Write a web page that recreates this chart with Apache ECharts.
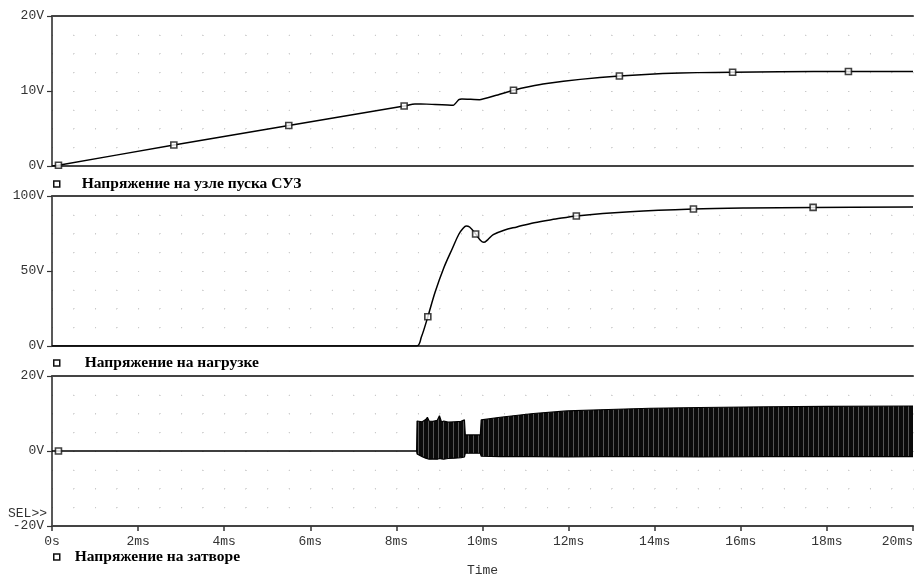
<!DOCTYPE html>
<html><head><meta charset="utf-8">
<script src="https://cdn.jsdelivr.net/npm/echarts@6/dist/echarts.min.js"></script>
<style>html,body{margin:0;padding:0;background:#fff}#c{width:914px;height:577px}</style>
</head><body><div id="c"></div>
<script>
// ---- data (time in ms, voltage in V) ----
const xTickLabels = ['0s','2ms','4ms','6ms','8ms','10ms','12ms','14ms','16ms','18ms','20ms'];
const nodeTicks = ['0V','10V','20V'];
const loadTicks = ['0V','50V','100V'];
const gateTicks = ['-20V','0V','20V'];
const seriesNames = ['Напряжение на узле пуска СУЗ','Напряжение на нагрузке','Напряжение на затворе'];

const nodeTime = [0, 0.15, 2.83, 5.5, 8.18, 8.43, 8.7, 9.32, 9.45, 9.52, 9.93, 10.3, 10.72, 11.1, 11.49, 12.27, 13.18, 14.19, 15.0, 15.81, 16.9, 18.5, 20];
const nodeVolt = [0, 0.1, 2.8, 5.4, 8.0, 8.27, 8.25, 8.1, 8.85, 8.93, 8.84, 9.4, 10.1, 10.6, 11.0, 11.55, 12.0, 12.33, 12.45, 12.5, 12.57, 12.6, 12.6];
const nodeMarkTime = [0.15, 2.83, 5.5, 8.18, 10.72, 13.18, 15.81, 18.5];
const nodeMarkVolt = [0.1, 2.8, 5.4, 8.0, 10.1, 12.0, 12.5, 12.6];

const loadTime = [0, 8.47, 8.58, 8.73, 8.9, 9.1, 9.3, 9.45, 9.55, 9.62, 9.7, 9.84, 9.95, 10.03, 10.12, 10.25, 10.5, 10.8, 11.2, 11.7, 12.18, 13.43, 14.9, 16.13, 17.68, 20];
const loadVolt = [0, 0, 6, 19.5, 36, 52, 65, 74.5, 78.5, 80, 79.3, 74.7, 70.5, 69.1, 70.8, 74.2, 77.2, 79.4, 82.2, 84.6, 86.7, 89.5, 91.3, 92, 92.4, 92.6];
const loadMarkTime = [8.73, 9.84, 12.18, 14.9, 17.68];
const loadMarkVolt = [19.5, 74.7, 86.7, 91.3, 92.4];

const gateTime  = [0, 8.47, 8.48, 8.6, 8.68, 8.72, 8.76, 8.85, 8.95, 9.0, 9.05, 9.1, 9.2, 9.35, 9.5, 9.58, 9.6, 9.95, 9.97, 10.41, 11.18, 11.96, 12.73, 13.89, 15.05, 16.6, 18.0, 20];
const gateUpper = [0, 0, 8.0, 7.8, 8.4, 9.0, 8.0, 7.9, 8.2, 9.4, 7.7, 8.0, 7.7, 7.8, 7.9, 8.3, 4.3, 4.3, 8.3, 9.0, 10.0, 10.7, 11.0, 11.4, 11.6, 11.8, 11.9, 12.0];
const gateLower = [0, 0, -0.8, -1.5, -1.9, -2.1, -2.2, -2.1, -2.2, -2.0, -2.1, -2.2, -2.0, -1.9, -1.8, -1.6, -0.6, -0.6, -1.4, -1.5, -1.5, -1.6, -1.5, -1.5, -1.6, -1.5, -1.5, -1.5];
const gateMarkTime = [0.15];
const gateMarkVolt = [0];

// ---- helpers ----
const pairs = (t, v) => t.map((x, i) => [x, v[i]]);
const dotH = {color: '#c8c8c8', width: 1, type: [1, 20.525]};
const dotV = {color: '#c8c8c8', width: 1, type: [1, 17.75]};
const monoFont = 'Liberation Mono';

const pc = document.createElement('canvas');
pc.width = 5; pc.height = 4;
const g = pc.getContext('2d');
g.fillStyle = '#0a0a0a'; g.fillRect(0, 0, 5, 4);
g.fillStyle = '#555'; g.fillRect(3, 0, 1, 4);

function bottomX(gi, show) {
  return {
    type: 'value', gridIndex: gi, min: 0, max: 20, interval: 2, position: 'bottom',
    axisLine: {show: true, onZero: false, lineStyle: {color: '#444', width: 2}},
    axisTick: {show: show, length: 5, lineStyle: {color: '#333', width: 1.5}},
    axisLabel: {show: show, margin: 9, fontFamily: monoFont, fontSize: 13, color: '#333',
      alignMaxLabel: 'right',
      formatter: v => xTickLabels[Math.round(v / 2)]},
    splitLine: {show: true, lineStyle: dotV},
    minorTick: {show: false, splitNumber: 4},
    minorSplitLine: {show: true, lineStyle: dotV},
    name: show ? 'Time' : '', nameLocation: 'middle', nameGap: 38,
    nameTextStyle: {fontFamily: monoFont, fontSize: 13, color: '#333'}
  };
}
function topX(gi) {
  return {
    type: 'value', gridIndex: gi, min: 0, max: 20, position: 'top',
    axisLine: {show: true, onZero: false, lineStyle: {color: '#444', width: 2}},
    axisTick: {show: false}, axisLabel: {show: false}, splitLine: {show: false}
  };
}
function yAx(gi, min, max, interval, labels) {
  return {
    type: 'value', gridIndex: gi, min: min, max: max, interval: interval,
    axisLine: {show: true, lineStyle: {color: '#222', width: 1.5}},
    axisTick: {show: true, length: 5, lineStyle: {color: '#333', width: 1.2}},
    axisLabel: {margin: 8, fontFamily: monoFont, fontSize: 13, color: '#333',
      formatter: v => labels[Math.round((v - min) / interval)]},
    splitLine: {show: true, lineStyle: dotH},
    minorTick: {show: false, splitNumber: 4},
    minorSplitLine: {show: true, lineStyle: dotH}
  };
}
function markers(xi, t, v) {
  return {
    type: 'scatter', xAxisIndex: xi, yAxisIndex: xi, data: pairs(t, v), silent: true,
    symbol: 'rect', symbolSize: 6, z: 5,
    itemStyle: {color: '#fff', borderColor: '#111', borderWidth: 1.6}
  };
}
function legendFor(i, top, padLeft) {
  return {
    data: [seriesNames[i]], left: 53, top: top, padding: 0, selectedMode: false,
    icon: 'rect', itemWidth: 6, itemHeight: 6,
    itemStyle: {color: '#fff', borderColor: '#111', borderWidth: 1.5},
    textStyle: {fontFamily: 'Liberation Serif', fontWeight: 'bold', fontSize: 15.5, color: '#000',
      lineHeight: 16, padding: [0, 0, 0, padLeft]}
  };
}
const gridBase = {left: 52, right: 1, height: 150, outerBoundsMode: 'none', containLabel: false};

const chart = echarts.init(document.getElementById('c'), null, {renderer: 'canvas'});
chart.setOption({
  animation: false,
  backgroundColor: '#fff',
  grid: [
    Object.assign({top: 16}, gridBase),
    Object.assign({top: 196}, gridBase),
    Object.assign({top: 376}, gridBase)
  ],
  xAxis: [bottomX(0, false), bottomX(1, false), bottomX(2, true), topX(0), topX(1), topX(2)],
  yAxis: [yAx(0, 0, 20, 10, nodeTicks), yAx(1, 0, 100, 50, loadTicks), yAx(2, -20, 20, 20, gateTicks)],
  legend: [legendFor(0, 176, 17), legendFor(1, 355, 20), legendFor(2, 549, 10)],
  graphic: [{
    type: 'text', left: 8, top: 507,
    style: {text: 'SEL>>', font: '13px "Liberation Mono"', fill: '#333'}
  }],
  series: [
    {name: seriesNames[0], type: 'line', xAxisIndex: 0, yAxisIndex: 0, data: pairs(nodeTime, nodeVolt),
      showSymbol: false, smooth: 0.15, lineStyle: {color: '#000', width: 1.5}, itemStyle: {color: '#000'}},
    markers(0, nodeMarkTime, nodeMarkVolt),
    {name: seriesNames[1], type: 'line', xAxisIndex: 1, yAxisIndex: 1, data: pairs(loadTime, loadVolt),
      showSymbol: false, smooth: 0.35, lineStyle: {color: '#000', width: 1.5}, itemStyle: {color: '#000'}},
    markers(1, loadMarkTime, loadMarkVolt),
    {name: seriesNames[2], type: 'line', xAxisIndex: 2, yAxisIndex: 2, data: pairs(gateTime, gateUpper),
      showSymbol: false, lineStyle: {color: '#000', width: 1.2}, itemStyle: {color: '#000'},
      areaStyle: {color: {image: pc, repeat: 'repeat'}, opacity: 1}},
    {name: 'gate-lower', type: 'line', xAxisIndex: 2, yAxisIndex: 2, data: pairs(gateTime, gateLower),
      showSymbol: false, lineStyle: {color: '#000', width: 1.2}, itemStyle: {color: '#000'},
      areaStyle: {color: {image: pc, repeat: 'repeat'}, opacity: 1}},
    markers(2, gateMarkTime, gateMarkVolt)
  ]
});
</script>
</body></html>
